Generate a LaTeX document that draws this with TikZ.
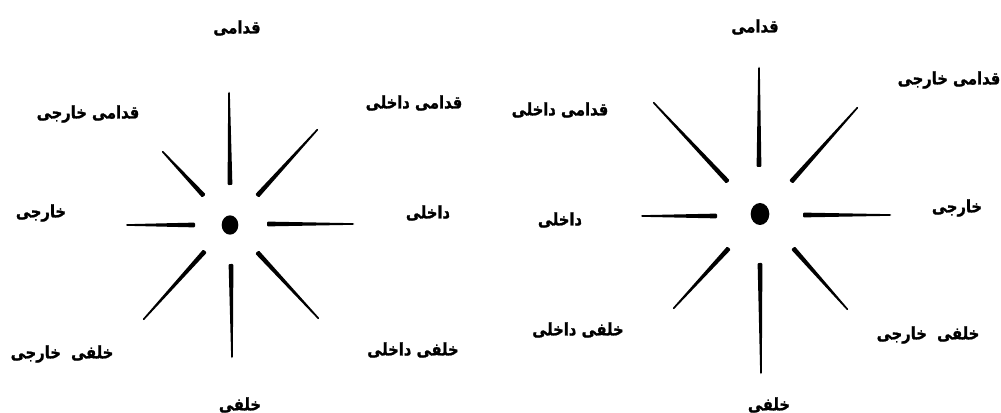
\documentclass[tikz,border=0pt]{standalone}
\usepackage{fontspec}
\usetikzlibrary{calc,shapes.geometric}
\TeXXeTstate=1
\newfontfamily\arabicfont[Script=Arabic,FakeStretch=0.85,BoldFeatures={FakeBold=1.2}]{DejaVu Sans}
\newcommand\taperline[2]{%
  \fill[rounded corners=0.8pt] ($(#1)!1.8pt!90:(#2)$) -- ($(#2)!0.6pt!-90:(#1)$) -- ($(#2)!0.6pt!90:(#1)$) -- ($(#1)!1.8pt!-90:(#2)$) -- cycle;}
\tikzset{lbl/.style={font=\arabicfont\bfseries\fontsize{13}{15}\selectfont, inner sep=0pt},
  dotstyle/.style={ellipse, fill=black, inner sep=0pt}}
\begin{document}
\begin{tikzpicture}[x=0.75pt,y=-0.75pt]
\useasboundingbox (0,0) rectangle (1001,413);
% left diagram
\node[dotstyle, minimum width=12.5pt, minimum height=14.5pt] (dL) at (230,225) {};
\coordinate (L1n) at (230,185); \coordinate (L1f) at (229,92);
\coordinate (L2n) at (204,196); \coordinate (L2f) at (162,151);
\coordinate (L3n) at (257,196); \coordinate (L3f) at (318,129);
\coordinate (L4n) at (195,225); \coordinate (L4f) at (126,225);
\coordinate (L5n) at (267,224); \coordinate (L5f) at (354,224);
\coordinate (L6n) at (205,251); \coordinate (L6f) at (143,320);
\coordinate (L7n) at (231,264); \coordinate (L7f) at (232,358);
\coordinate (L8n) at (257,252); \coordinate (L8f) at (319,319);
\foreach \i in {1,...,8} {\taperline{L\i n}{L\i f}}
\node[lbl] (lq) at (237,28) {\beginR قدامی\endR};
\node[lbl] (lqk) at (88,114) {\beginR قدامی خارجی\endR};
\node[lbl] (lqd) at (414,103) {\beginR قدامی داخلی\endR};
\node[lbl] (lk) at (41,213) {\beginR خارجی\endR};
\node[lbl] (ld) at (428,213) {\beginR داخلی\endR};
\node[lbl] (lxk) at (62,354) {\beginR خلفی\ \ خارجی\endR};
\node[lbl] (lxd) at (413,350) {\beginR خلفی داخلی\endR};
\node[lbl] (lx) at (240,405) {\beginR خلفی\endR};
% right diagram
\node[dotstyle, minimum width=14pt, minimum height=16.5pt] (dR) at (760,214) {};
\coordinate (R1n) at (759,167); \coordinate (R1f) at (759,67);
\coordinate (R2n) at (728,182); \coordinate (R2f) at (653,102);
\coordinate (R3n) at (791,182); \coordinate (R3f) at (858,107);
\coordinate (R4n) at (717,216); \coordinate (R4f) at (641,216);
\coordinate (R5n) at (803,215); \coordinate (R5f) at (891,215);
\coordinate (R6n) at (729,248); \coordinate (R6f) at (673,309);
\coordinate (R7n) at (760,263); \coordinate (R7f) at (761,374);
\coordinate (R8n) at (793,248); \coordinate (R8f) at (848,310);
\foreach \i in {1,...,8} {\taperline{R\i n}{R\i f}}
\node[lbl] (rq) at (755,27) {\beginR قدامی\endR};
\node[lbl] (rqd) at (560,110) {\beginR قدامی داخلی\endR};
\node[lbl] (rqk) at (949,80) {\beginR قدامی خارجی\endR};
\node[lbl] (rd) at (560,220) {\beginR داخلی\endR};
\node[lbl] (rk) at (957,208) {\beginR خارجی\endR};
\node[lbl] (rxd) at (578,330) {\beginR خلفی داخلی\endR};
\node[lbl] (rxk) at (928,335) {\beginR خلفی\ \ خارجی\endR};
\node[lbl] (rx) at (769,405) {\beginR خلفی\endR};
\end{tikzpicture}
\end{document}
